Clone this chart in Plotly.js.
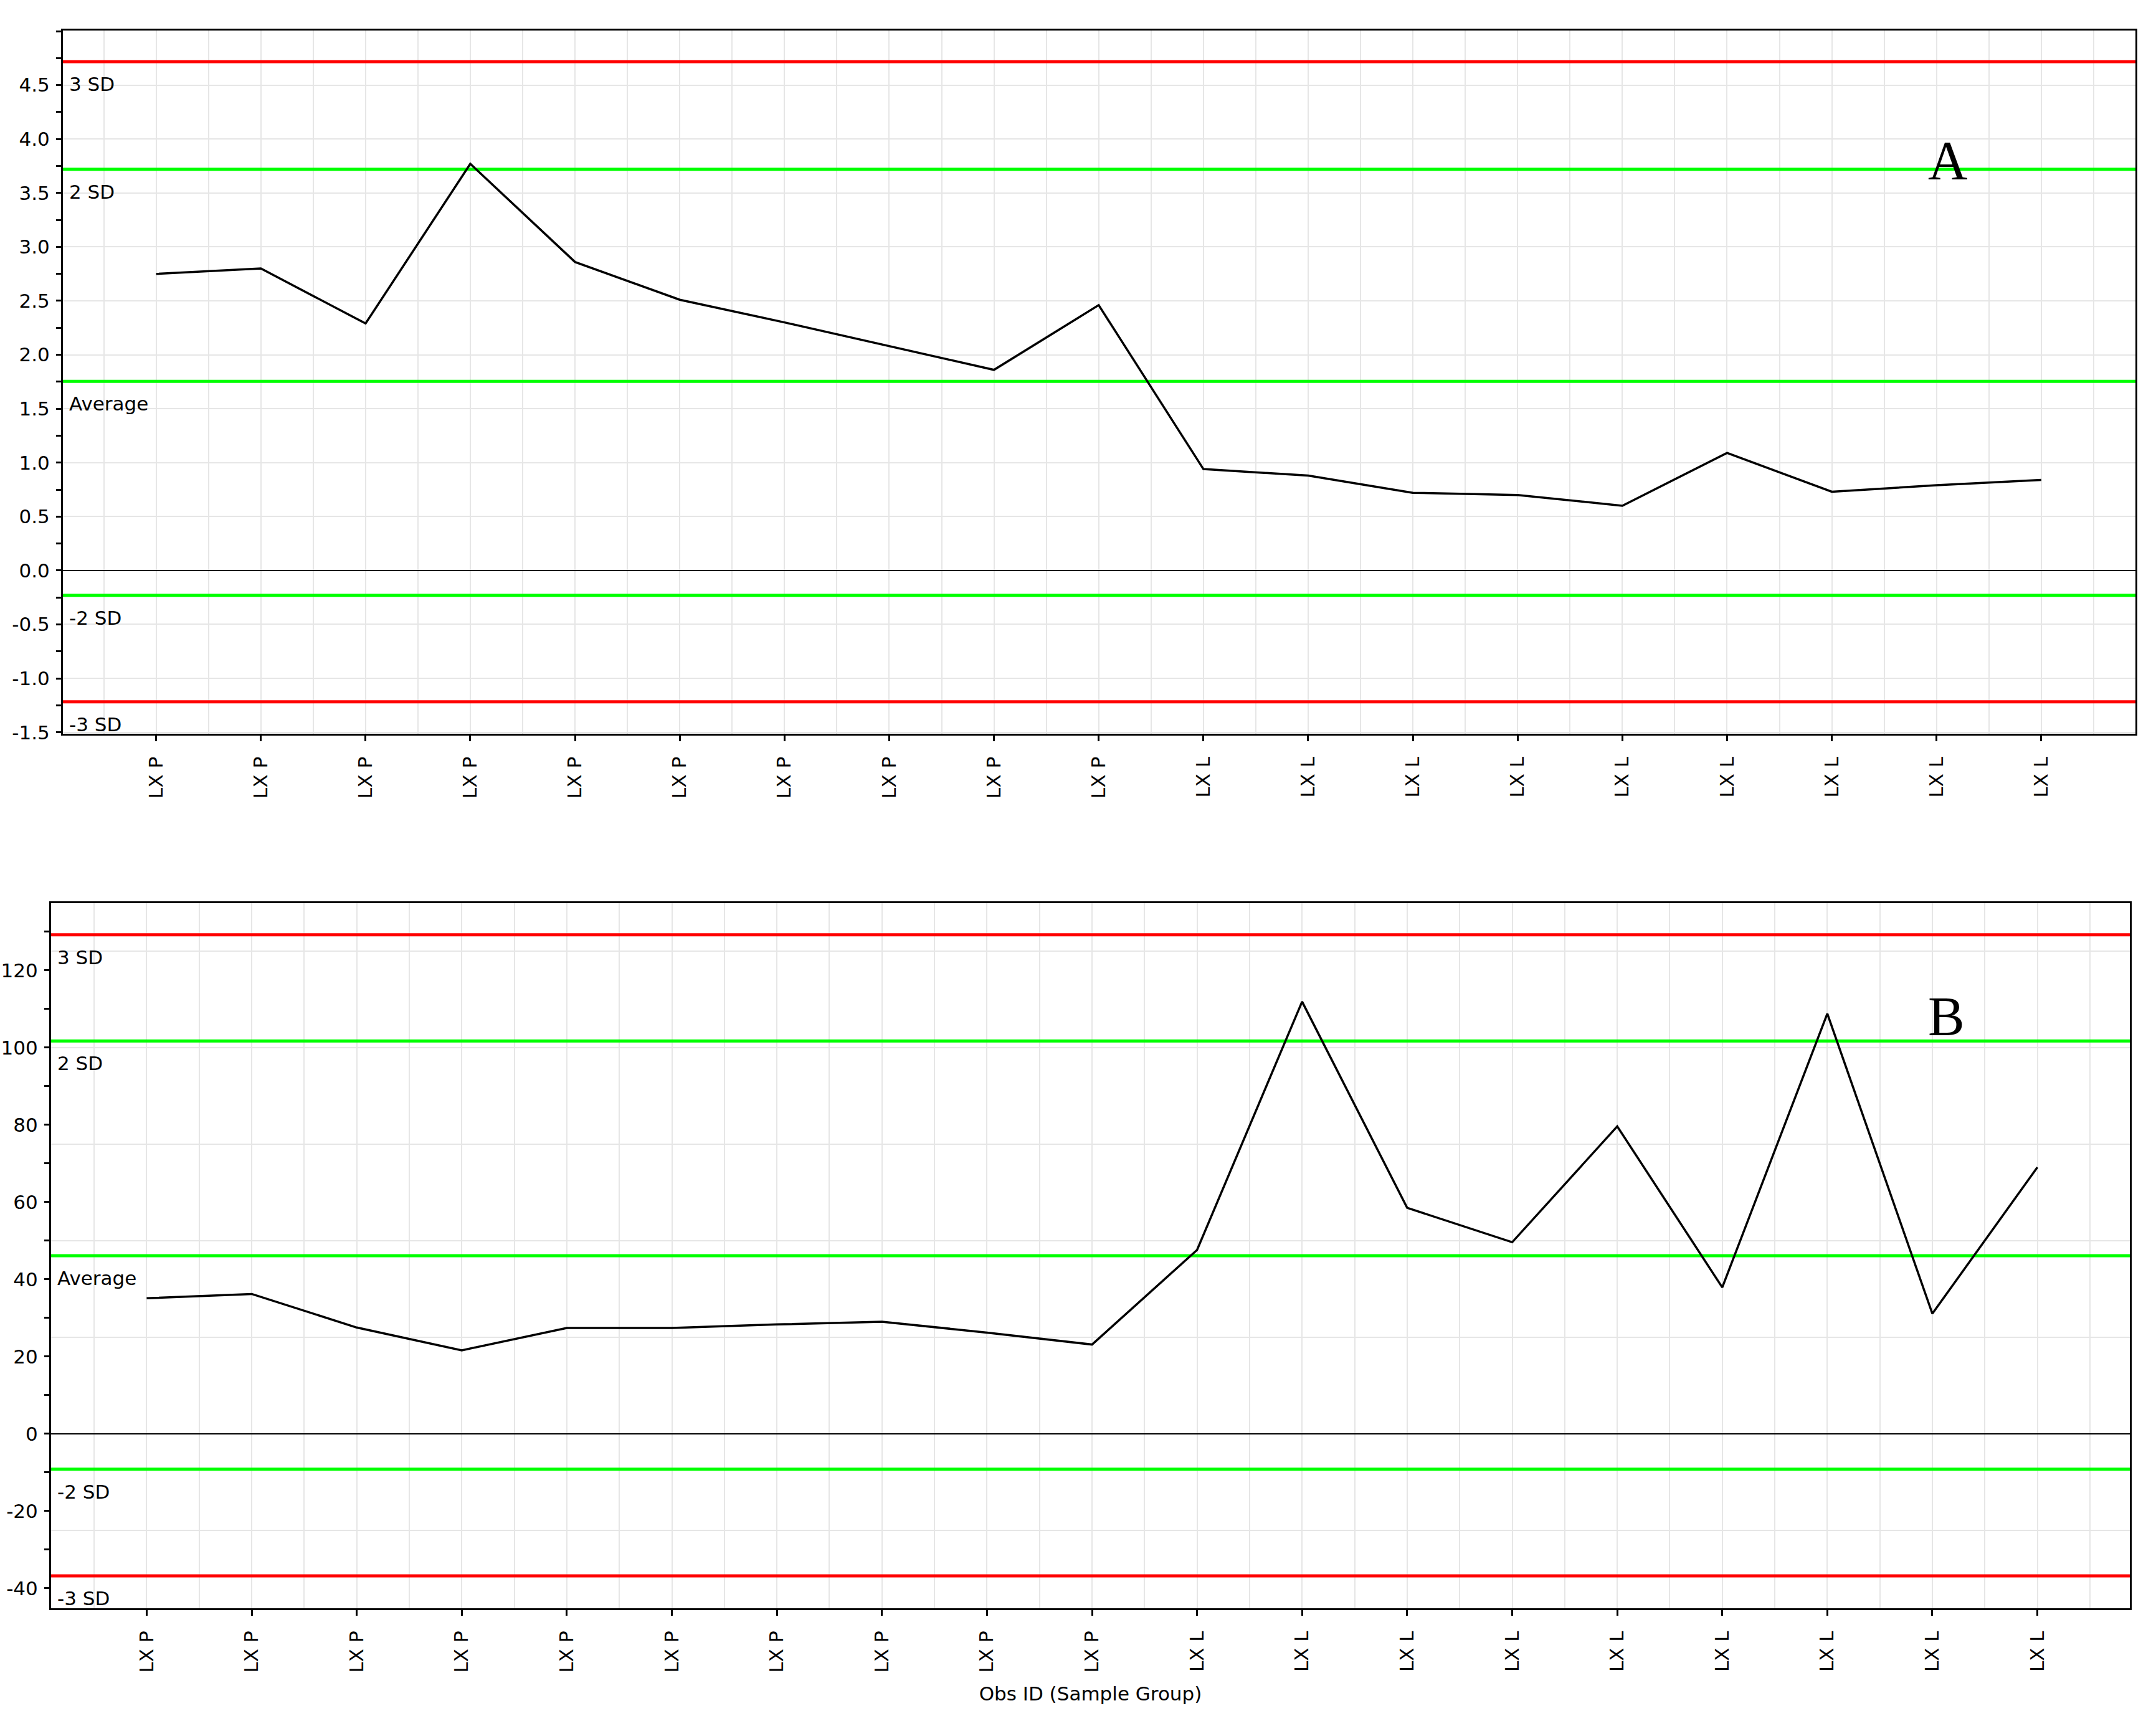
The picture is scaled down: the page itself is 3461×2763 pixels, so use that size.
<!DOCTYPE html>
<html>
<head>
<meta charset="utf-8">
<script src="https://cdn.plot.ly/plotly-3.0.1.min.js"></script>
<style>
  html, body { margin: 0; padding: 0; background: #fff; }
  #myDiv { width: 3461px; height: 2763px; }
</style>
</head>
<body>
<div id="myDiv"></div>
<script>
// sample groups along the x axis
var obsLabels = ['LX P','LX P','LX P','LX P','LX P','LX P','LX P','LX P','LX P','LX P',
                 'LX L','LX L','LX L','LX L','LX L','LX L','LX L','LX L','LX L'];
var obsIndex = obsLabels.map(function (d, i) { return i; });

// panel A values
var valuesA = [2.75, 2.80, 2.29, 3.77, 2.86, 2.51, 2.30, 2.08, 1.86, 2.46,
               0.94, 0.88, 0.72, 0.70, 0.60, 1.09, 0.73, 0.79, 0.84];
// panel B values
var valuesB = [35.1, 36.2, 27.5, 21.6, 27.4, 27.4, 28.3, 29.0, 26.2, 23.1,
               47.6, 111.9, 58.5, 49.6, 79.6, 37.9, 108.8, 31.1, 69.0];

// control limits: +3 SD, +2 SD, average, -2 SD, -3 SD
var limitNames = ['3 SD', '2 SD', 'Average', '-2 SD', '-3 SD'];
var limitColors = ['#ff0000', '#00ff00', '#00ff00', '#00ff00', '#ff0000'];
var limitsA = [4.717, 3.72, 1.753, -0.23, -1.218];
var limitsB = [129.2, 101.7, 46.1, -9.2, -36.8];

// y tick labels
var yTicksA = [-1.5, -1.0, -0.5, 0.0, 0.5, 1.0, 1.5, 2.0, 2.5, 3.0, 3.5, 4.0, 4.5];
var yTickTextA = ['-1.5', '-1.0', '-0.5', '0.0', '0.5', '1.0', '1.5', '2.0', '2.5', '3.0', '3.5', '4.0', '4.5'];
var yTicksB = [-40, -20, 0, 20, 40, 60, 80, 100, 120];
var yTickTextB = ['-40', '-20', '0', '20', '40', '60', '80', '100', '120'];

// axis ranges
var xRangeA = [-0.89, 18.9];
var yRangeA = [-1.516, 5.008];
var xRangeB = [-0.91, 18.88];
var yRangeB = [-45.2, 137.4];

var FONT = '"DejaVu Sans", Verdana, sans-serif';
var GRID = '#e6e6e6';

var trace1 = {
    x: obsIndex,
    y: valuesA,
    mode: 'lines',
    xaxis: 'x',
    yaxis: 'y',
    line: { color: '#000', width: 3.5 },
    showlegend: false,
    hoverinfo: 'skip'
};

var trace2 = {
    x: obsIndex,
    y: valuesB,
    mode: 'lines',
    xaxis: 'x2',
    yaxis: 'y2',
    line: { color: '#000', width: 3.5 },
    showlegend: false,
    hoverinfo: 'skip'
};

// empty trace so the grid-only axis of panel B exists
var trace3 = { x: [], y: [], xaxis: 'x2', yaxis: 'y3', showlegend: false };

function xAxis(domain, range, anchor) {
    return {
        domain: domain, range: range, anchor: anchor,
        tickmode: 'array', tickvals: obsIndex, ticktext: obsLabels,
        tickangle: -90, ticks: 'outside', ticklen: 9, tickwidth: 3, tickcolor: '#000',
        ticklabelstandoff: 12,
        tickfont: { family: FONT, size: 31, color: '#000' },
        showline: true, linecolor: '#000', linewidth: 3, mirror: true,
        showgrid: true, gridcolor: GRID, gridwidth: 2, zeroline: false,
        minor: { tickmode: 'linear', tick0: 0.5, dtick: 1, showgrid: true,
                 gridcolor: GRID, gridwidth: 2, ticks: '' }
    };
}

function yAxis(domain, range, anchor, vals, text, minorStep, grid) {
    return {
        domain: domain, range: range, anchor: anchor,
        tickmode: 'array', tickvals: vals, ticktext: text,
        ticks: 'outside', ticklen: 8, tickwidth: 3, tickcolor: '#000',
        ticklabelstandoff: 4,
        tickfont: { family: FONT, size: 31, color: '#000' },
        showline: true, linecolor: '#000', linewidth: 3, mirror: true,
        showgrid: grid, gridcolor: GRID, gridwidth: 2,
        zeroline: true, zerolinecolor: '#000', zerolinewidth: 2.5,
        minor: { tickmode: 'linear', tick0: 0, dtick: minorStep, ticks: 'outside',
                 ticklen: 8, tickwidth: 3, tickcolor: '#000', showgrid: false }
    };
}

var shapes = [];
var annotations = [];
function addLimits(limits, xref, yref, xRange) {
    limits.forEach(function (v, i) {
        shapes.push({
            type: 'line', xref: xref, yref: yref,
            x0: xRange[0], x1: xRange[1], y0: v, y1: v,
            line: { color: limitColors[i], width: 5 },
            layer: 'between'
        });
        annotations.push({
            xref: xref + ' domain', yref: yref, x: 0, y: v,
            xanchor: 'left', yanchor: 'middle', xshift: 8, yshift: -36,
            text: limitNames[i], showarrow: false,
            font: { family: FONT, size: 31, color: '#000' }
        });
    });
}
addLimits(limitsA, 'x', 'y', xRangeA);
addLimits(limitsB, 'x2', 'y2', xRangeB);

annotations.push({
    xref: 'x domain', yref: 'y domain', x: 0.9095, y: 0.815,
    xanchor: 'center', yanchor: 'middle', text: 'A', showarrow: false,
    font: { family: '"Times New Roman", "Liberation Serif", serif', size: 88, color: '#000' }
});
annotations.push({
    xref: 'x2 domain', yref: 'y2 domain', x: 0.9119, y: 0.840,
    xanchor: 'center', yanchor: 'middle', text: 'B', showarrow: false,
    font: { family: '"Times New Roman", "Liberation Serif", serif', size: 88, color: '#000' }
});

var xaxisB = xAxis([0.02369, 0.98786], xRangeB, 'y2');
xaxisB.title = { text: 'Obs ID (Sample Group)', standoff: 24,
                 font: { family: FONT, size: 31, color: '#000' } };

var layout = {
    width: 3461,
    height: 2763,
    margin: { l: 0, r: 0, t: 0, b: 0 },
    paper_bgcolor: '#fff',
    plot_bgcolor: '#fff',
    showlegend: false,
    xaxis: xAxis([0.02918, 0.9905], xRangeA, 'y'),
    yaxis: yAxis([0.5735, 0.9824], yRangeA, 'x', yTicksA, yTickTextA, 0.25, true),
    xaxis2: xaxisB,
    yaxis2: yAxis([0.0655, 0.4752], yRangeB, 'x2', yTicksB, yTickTextB, 10, false),
    yaxis3: {
        overlaying: 'y2', anchor: 'x2', range: yRangeB,
        tickmode: 'linear', tick0: 0, dtick: 25,
        showgrid: true, gridcolor: GRID, gridwidth: 2,
        showticklabels: false, ticks: '', showline: false, zeroline: false
    },
    shapes: shapes,
    annotations: annotations
};

Plotly.newPlot('myDiv', [trace1, trace2, trace3], layout, { staticPlot: true });
</script>
</body>
</html>
